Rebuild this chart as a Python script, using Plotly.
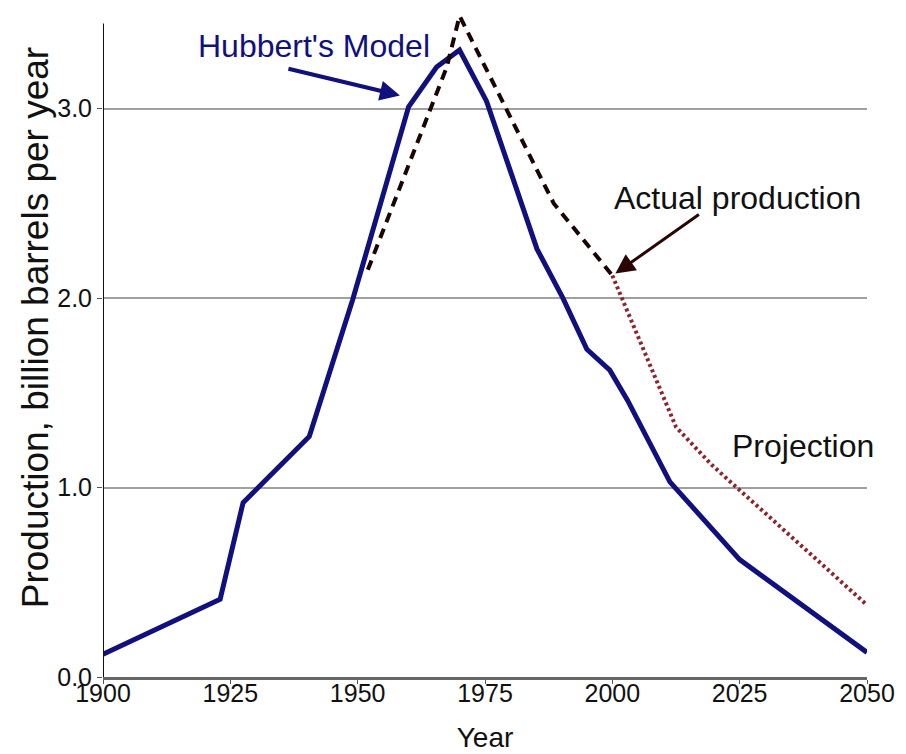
import plotly.graph_objects as go

# Hubbert's model curve
model_years = [1900, 1923, 1927.5, 1940.5, 1949, 1960, 1965.5, 1970, 1975.3, 1985.2,
               1990.3, 1995, 1999.5, 2003, 2011.3, 2025, 2050]
model_vals = [0.12, 0.41, 0.92, 1.27, 1.99, 3.01, 3.22, 3.31, 3.04, 2.26,
              2.0, 1.73, 1.62, 1.46, 1.03, 0.62, 0.13]

# Actual production
actual_years = [1952, 1967.5, 1970, 1988.5, 2000]
actual_vals = [2.15, 3.22, 3.49, 2.50, 2.12]

# Projection
proj_years = [2000, 2012.5, 2019.5, 2050]
proj_vals = [2.12, 1.32, 1.12, 0.38]

x_ticks = [1900, 1925, 1950, 1975, 2000, 2025, 2050]
y_ticks = [0, 1, 2, 3]
y_tick_labels = ["0.0", "1.0", "2.0", "3.0"]

FONT = "Liberation Sans, Arial, sans-serif"
NAVY = "#10107e"
MAROON = "#8e2430"

fig = go.Figure()
fig.add_trace(go.Scatter(x=model_years, y=model_vals, mode="lines",
                         line=dict(color=NAVY, width=5), showlegend=False))
fig.add_trace(go.Scatter(x=actual_years, y=actual_vals, mode="lines",
                         line=dict(color="#1a0505", width=4, dash="10px,7px"), showlegend=False))
fig.add_trace(go.Scatter(x=proj_years, y=proj_vals, mode="lines",
                         line=dict(color=MAROON, width=4, dash="3px,3px"), showlegend=False))

# left axis line (stops a little below the top)
fig.add_shape(type="line", xref="x", yref="y", x0=1900, x1=1900, y0=0, y1=3.45,
              line=dict(color="#111111", width=2))

fig.add_annotation(x=1941.4, y=3.33, text="Hubbert's Model", showarrow=False,
                   font=dict(family=FONT, size=32, color=NAVY))
fig.add_annotation(x=1958.3, y=3.07, ax=-113, ay=-27, text="", showarrow=True,
                   arrowhead=2, arrowsize=1, arrowwidth=4, arrowcolor=NAVY)

fig.add_annotation(x=2024.6, y=2.53, text="Actual production", showarrow=False,
                   font=dict(family=FONT, size=32, color="#111111"))
fig.add_annotation(x=2000.6, y=2.13, ax=85, ay=-60, text="", showarrow=True,
                   arrowhead=2, arrowsize=1.3, arrowwidth=3, arrowcolor="#2a0505")

fig.add_annotation(x=2037.4, y=1.22, text="Projection", showarrow=False,
                   font=dict(family=FONT, size=32, color="#111111"))

# y-axis title (placed as rotated text, slightly above the plot centre)
fig.add_annotation(xref="paper", yref="paper", x=-0.089, y=0.526,
                   xanchor="center", yanchor="middle", textangle=-90, showarrow=False,
                   text="Production, billion barrels per year",
                   font=dict(family=FONT, size=37, color="#111111"))

fig.update_xaxes(range=[1900, 2050], tickvals=x_ticks, showgrid=False,
                 showline=True, linecolor="#666666", linewidth=3,
                 ticks="outside", ticklen=4, tickcolor="#555555",
                 ticklabelstandoff=-12,
                 tickfont=dict(family=FONT, size=25, color="#111111"),
                 title=dict(text="Year", font=dict(family=FONT, size=28, color="#111111"), standoff=22),
                 zeroline=False, automargin=False)
fig.update_yaxes(range=[0, 3.5], tickvals=y_ticks, ticktext=y_tick_labels,
                 showgrid=True, gridcolor="#a0a0a0", gridwidth=1.5,
                 showline=False, ticks="outside", ticklen=5, tickcolor="#555555",
                 tickfont=dict(family=FONT, size=25, color="#111111"),
                 zeroline=False, automargin=False)

fig.update_layout(width=898, height=746, margin=dict(l=95, r=39, t=6, b=77),
                  plot_bgcolor="white", paper_bgcolor="white")

fig.write_html("out.html")
